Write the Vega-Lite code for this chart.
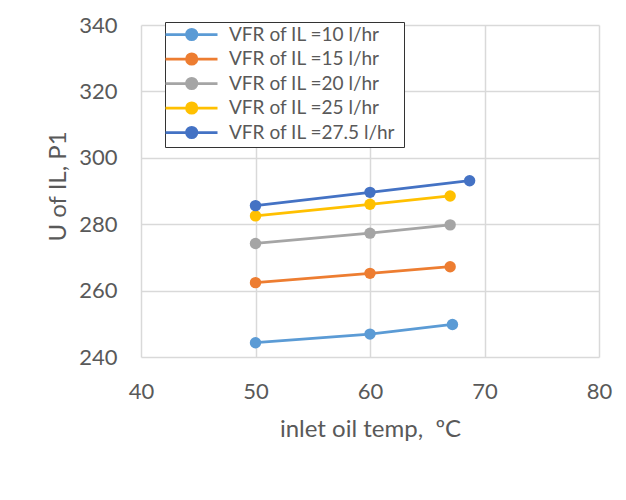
{
  "$schema": "https://vega.github.io/schema/vega-lite/v6.json",
  "width": 458,
  "height": 332,
  "autosize": {"type": "none"},
  "padding": {"left": 141, "top": 25, "right": 27, "bottom": 143},
  "background": "white",
  "config": {
    "font": "Lato",
    "view": {"stroke": null},
    "axis": {
      "labelFont": "Lato", "titleFont": "Lato",
      "labelColor": "#595959", "titleColor": "#595959",
      "labelFontSize": 22, "titleFontSize": 24, "titleFontWeight": "normal",
      "gridColor": "#d9d9d9", "gridWidth": 1.5,
      "domain": false, "ticks": false, "labelFlush": false
    }
  },
  "data": {
    "values": [
      {"series": "VFR of  IL =10 l/hr", "temp": 50, "u": 244.3},
      {"series": "VFR of  IL =10 l/hr", "temp": 60, "u": 246.9},
      {"series": "VFR of  IL =10 l/hr", "temp": 67.2, "u": 249.8},
      {"series": "VFR of  IL =15 l/hr", "temp": 50, "u": 262.4},
      {"series": "VFR of  IL =15 l/hr", "temp": 60, "u": 265.2},
      {"series": "VFR of  IL =15 l/hr", "temp": 67.0, "u": 267.2},
      {"series": "VFR of  IL =20 l/hr", "temp": 50, "u": 274.2},
      {"series": "VFR of  IL =20 l/hr", "temp": 60, "u": 277.3},
      {"series": "VFR of  IL =20 l/hr", "temp": 67.0, "u": 279.8},
      {"series": "VFR of  IL =25 l/hr", "temp": 50, "u": 282.5},
      {"series": "VFR of  IL =25 l/hr", "temp": 60, "u": 286.0},
      {"series": "VFR of  IL =25 l/hr", "temp": 67.0, "u": 288.5},
      {"series": "VFR of  IL =27.5 l/hr", "temp": 50, "u": 285.6},
      {"series": "VFR of  IL =27.5 l/hr", "temp": 60, "u": 289.6},
      {"series": "VFR of  IL =27.5 l/hr", "temp": 68.7, "u": 293.1}
    ]
  },
  "encoding": {
    "x": {
      "field": "temp", "type": "quantitative",
      "scale": {"domain": [40, 80], "nice": false},
      "axis": {"values": [40, 50, 60, 70, 80], "labelPadding": 24, "title": "inlet oil temp,\u00a0 ºC", "titleY": 72, "titleBaseline": "middle"}
    },
    "y": {
      "field": "u", "type": "quantitative",
      "scale": {"domain": [240, 340], "nice": false, "zero": false},
      "axis": {"values": [240, 260, 280, 300, 320, 340], "labelPadding": 24, "title": "U of IL, P1", "titleX": -83, "titleY": 161, "titleBaseline": "middle"}
    },
    "color": {
      "field": "series", "type": "nominal",
      "scale": {
        "domain": ["VFR of  IL =10 l/hr", "VFR of  IL =15 l/hr", "VFR of  IL =20 l/hr", "VFR of  IL =25 l/hr", "VFR of  IL =27.5 l/hr"],
        "range": ["#5B9BD5", "#ED7D31", "#A5A5A5", "#FFC000", "#4472C4"]
      },
      "legend": {
        "title": null,
        "orient": "none",
        "legendX": 24,
        "legendY": -3,
        "fillColor": "white",
        "strokeColor": "#333333",
        "padding": 3,
        "rowPadding": 1.5,
        "labelFont": "Lato",
        "labelFontSize": 19,
        "labelColor": "#595959",
        "labelOffset": 42,
        "labelLimit": 400,
        "symbolSize": 256,
        "symbolStrokeWidth": 2.75,
        "symbolType": "M-1.5,0H5M1.125,0A0.65,0.65,0,1,1,2.425,0A0.65,0.65,0,1,1,1.125,0",
        "encode": {
          "symbols": {
            "update": {
              "fill": {"scale": "color", "field": "value"},
              "stroke": {"scale": "color", "field": "value"},
              "opacity": {"value": 1}
            }
          }
        }
      }
    }
  },
  "layer": [
    {"mark": {"type": "line", "strokeWidth": 2.75}},
    {"mark": {"type": "point", "filled": true, "size": 130, "opacity": 1}}
  ]
}
